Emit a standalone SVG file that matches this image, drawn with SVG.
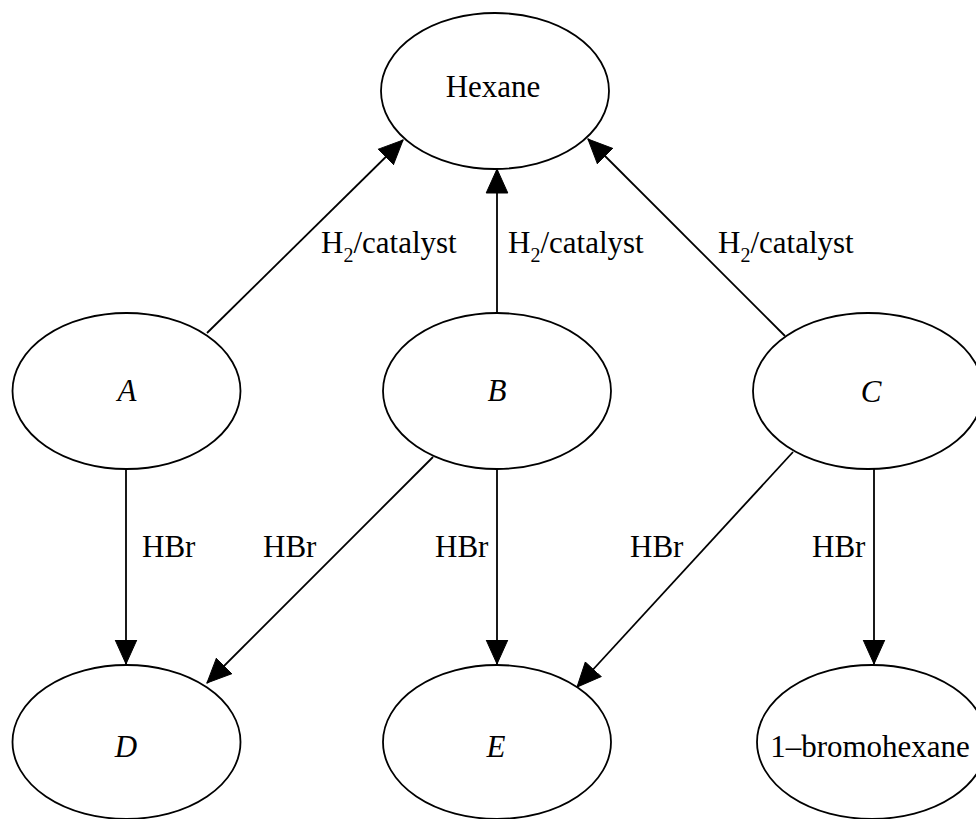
<svg xmlns="http://www.w3.org/2000/svg" width="976" height="819" viewBox="0 0 976 819">
<style>
.node ellipse{fill:#fff;stroke:#000;stroke-width:1.8}
text{font-family:"Liberation Serif","Times New Roman",serif;font-size:31px;fill:#000}
.lbl{text-anchor:middle}
.it{font-style:italic}
.edge line{stroke:#000;stroke-width:1.8;marker-end:url(#ah)}
.sub{font-size:20px}
</style>
<defs>
<marker id="ah" markerUnits="userSpaceOnUse" markerWidth="26" markerHeight="24" viewBox="0 -12 25 24" refX="24" refY="0" orient="auto">
<path d="M0,-10.8 L24,0 L0,10.8 z" fill="#000" stroke="#000" stroke-width="1"/>
</marker>
</defs>
<rect width="976" height="819" fill="#fff"/>
<g id="edges" class="edge">
<line x1="207" y1="333" x2="403" y2="140"/>
<line x1="497" y1="313" x2="497" y2="169"/>
<line x1="785" y1="336" x2="588" y2="139"/>
<line x1="126" y1="469" x2="126" y2="664"/>
<line x1="433" y1="457" x2="207" y2="683"/>
<line x1="497" y1="469" x2="497" y2="664"/>
<line x1="793" y1="452" x2="577" y2="687"/>
<line x1="874" y1="469" x2="874" y2="664"/>
</g>
<g id="edge-labels">
<text x="321" y="253">H<tspan class="sub" dy="9">2</tspan><tspan dy="-9">/catalyst</tspan></text>
<text x="508" y="253">H<tspan class="sub" dy="9">2</tspan><tspan dy="-9">/catalyst</tspan></text>
<text x="718" y="253">H<tspan class="sub" dy="9">2</tspan><tspan dy="-9">/catalyst</tspan></text>
<text x="142" y="557">HBr</text>
<text x="263" y="557">HBr</text>
<text x="435" y="557">HBr</text>
<text x="630" y="557">HBr</text>
<text x="812" y="557">HBr</text>
</g>
<g id="node-hexane" class="node"><ellipse cx="495" cy="91" rx="114" ry="78"/><text class="lbl" x="493" y="97">Hexane</text></g>
<g id="node-A" class="node"><ellipse cx="126.5" cy="391" rx="114" ry="78"/><text class="lbl it" x="127" y="401">A</text></g>
<g id="node-B" class="node"><ellipse cx="497" cy="391" rx="114" ry="78"/><text class="lbl it" x="497" y="401">B</text></g>
<g id="node-C" class="node"><ellipse cx="868" cy="391" rx="115" ry="78"/><text class="lbl it" x="871" y="402">C</text></g>
<g id="node-D" class="node"><ellipse cx="126.5" cy="742" rx="114" ry="77"/><text class="lbl it" x="126" y="757">D</text></g>
<g id="node-E" class="node"><ellipse cx="497" cy="742" rx="114" ry="77"/><text class="lbl it" x="496" y="757">E</text></g>
<g id="node-bromohexane" class="node"><ellipse cx="872" cy="742" rx="115" ry="77"/><text class="lbl" x="870" y="757">1–bromohexane</text></g>
</svg>
